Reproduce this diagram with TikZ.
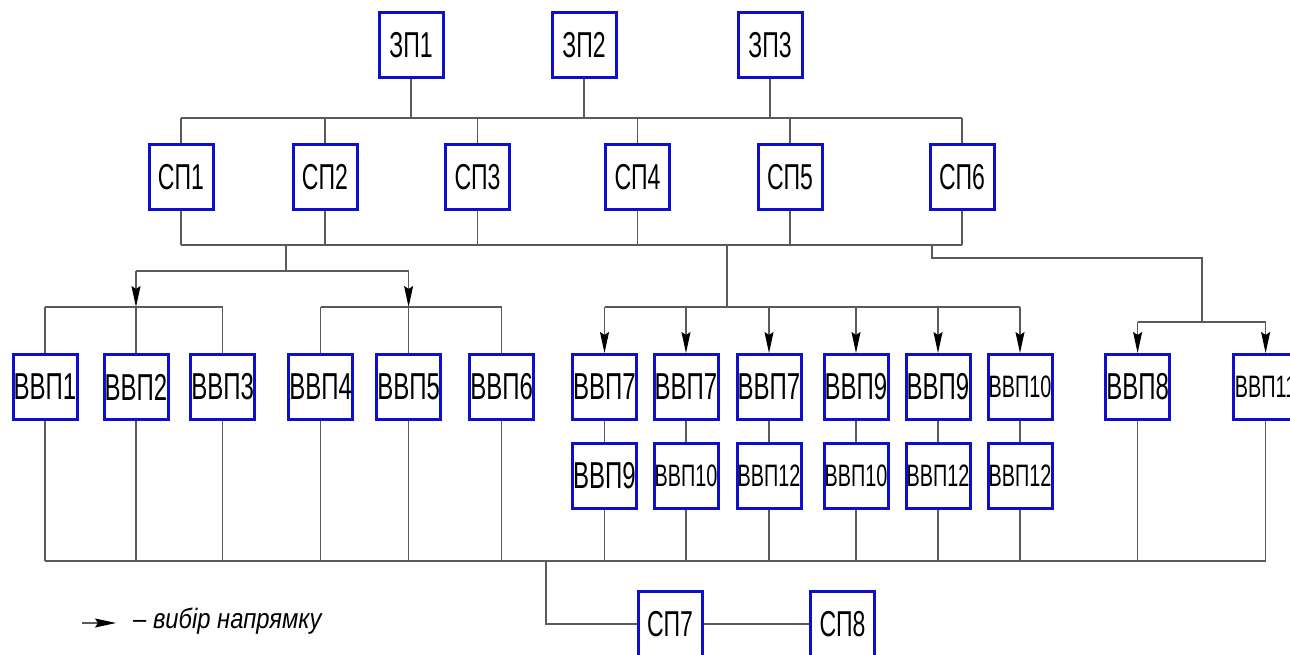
\documentclass[tikz,border=0pt]{standalone}
\usepackage{fontspec}
\setmainfont{Liberation Sans}[FakeStretch=0.64]
\newfontfamily\legfont{Liberation Sans}[FakeStretch=0.85]
\usetikzlibrary{arrows.meta}
\definecolor{boxblue}{RGB}{14,14,205}
\definecolor{wirec}{RGB}{90,90,90}
\newcommand\boxlabel[1]{\makebox[0pt][c]{#1}}
\begin{document}
\begin{tikzpicture}[x=1pt,y=-1pt,
  box/.style={draw=boxblue, line width=3pt, minimum width=64pt, minimum height=65pt,
    inner sep=0pt, text=black, font=\fontsize{36}{38}\selectfont},
  vbox/.style={box, font=\fontsize{37.5}{40}\selectfont},
  vsmall/.style={box, font=\fontsize{31}{34}\selectfont},
  wire/.style={draw=wirec, line width=1.1pt},
  arr/.style={wire, -{Stealth[length=21pt,width=9pt,inset=3pt,color=black]}}]
\useasboundingbox (0,0) rectangle (1290,655);
\fill[white] (0,0) rectangle (1290,655);
% top row
\node[box] (zp1) at (411,45.5) {\boxlabel{ЗП1}};
\node[box] (zp2) at (584,45.5) {\boxlabel{ЗП2}};
\node[box] (zp3) at (770,45.5) {\boxlabel{ЗП3}};
% SP row
\node[box] (sp1) at (181,177) {\boxlabel{СП1}};
\node[box] (sp2) at (325,177) {\boxlabel{СП2}};
\node[box] (sp3) at (477.5,177) {\boxlabel{СП3}};
\node[box] (sp4) at (637.5,177) {\boxlabel{СП4}};
\node[box] (sp5) at (790,177) {\boxlabel{СП5}};
\node[box] (sp6) at (962,177) {\boxlabel{СП6}};
% VVP row
\node[vbox] (v1) at (45,387) {\boxlabel{ВВП1}};
\node[vbox] (v2) at (136,387) {\boxlabel{ВВП2}};
\node[vbox] (v3) at (222.6,387) {\boxlabel{ВВП3}};
\node[vbox] (v4) at (320.6,387) {\boxlabel{ВВП4}};
\node[vbox] (v5) at (408.6,387) {\boxlabel{ВВП5}};
\node[vbox] (v6) at (501.6,387) {\boxlabel{ВВП6}};
\node[vbox] (v7a) at (604.5,387) {\boxlabel{ВВП7}};
\node[vbox] (v7b) at (686,387) {\boxlabel{ВВП7}};
\node[vbox] (v7c) at (769,387) {\boxlabel{ВВП7}};
\node[vbox] (v9a) at (856,387) {\boxlabel{ВВП9}};
\node[vbox] (v9b) at (938,387) {\boxlabel{ВВП9}};
\node[vsmall] (v10) at (1020,387) {\boxlabel{ВВП10}};
\node[vbox] (v8) at (1137.6,387) {\boxlabel{ВВП8}};
\node[vsmall] (v11) at (1265.6,387) {\boxlabel{ВВП11}};
% second row
\node[vbox] (w9) at (604.5,476) {\boxlabel{ВВП9}};
\node[vsmall] (w10a) at (686,476) {\boxlabel{ВВП10}};
\node[vsmall] (w12a) at (769,476) {\boxlabel{ВВП12}};
\node[vsmall] (w10b) at (856,476) {\boxlabel{ВВП10}};
\node[vsmall] (w12b) at (938,476) {\boxlabel{ВВП12}};
\node[vsmall] (w12c) at (1020,476) {\boxlabel{ВВП12}};
% bottom
\node[box] (sp7) at (670,624) {\boxlabel{СП7}};
\node[box] (sp8) at (842.5,624) {\boxlabel{СП8}};
% coordinates
\coordinate (tb) at (0,118);
\coordinate (lb) at (0,245);
\coordinate (ja) at (286,245);
\coordinate (ka) at (286,271);
\coordinate (ba) at (0,307);
\coordinate (jb) at (727,245);
\coordinate (jc) at (932,245);
\coordinate (kc) at (932,258);
\coordinate (mc) at (1202,258);
\coordinate (bc) at (0,322);
\coordinate (bb) at (0,561);
\coordinate (jd) at (546,561);
% top bus
\foreach \n in {zp1,zp2,zp3} \draw[wire] (\n.south) -- (\n.south |- tb);
\draw[wire] (sp1.north |- tb) -- (sp6.north |- tb);
\foreach \n in {sp1,sp2,sp3,sp4,sp5,sp6} {
  \draw[wire] (\n.north) -- (\n.north |- tb);
  \draw[wire] (\n.south) -- (\n.south |- lb);
}
\draw[wire] (sp1.south |- lb) -- (sp6.south |- lb);
% branch A
\draw[wire] (ja) -- (ka);
\draw[wire] (v2.north |- ka) -- (v5.north |- ka);
\draw[arr] (v2.north |- ka) -- (v2.north |- ba);
\draw[arr] (v5.north |- ka) -- (v5.north |- ba);
\draw[wire] (v1.north |- ba) -- (v3.north |- ba);
\draw[wire] (v4.north |- ba) -- (v6.north |- ba);
\foreach \n in {v1,v2,v3,v4,v5,v6} \draw[wire] (\n.north) -- (\n.north |- ba);
% branch B
\draw[wire] (jb) -- (jb |- ba);
\draw[wire] (v7a.north |- ba) -- (v10.north |- ba);
\foreach \n in {v7a,v7b,v7c,v9a,v9b,v10} \draw[arr] (\n.north |- ba) -- (\n.north);
% branch C
\draw[wire] (jc) -- (kc) -- (mc) -- (mc |- bc);
\draw[wire] (v8.north |- bc) -- (v11.north |- bc);
\foreach \n in {v8,v11} \draw[arr] (\n.north |- bc) -- (\n.north);
% stacks
\draw[wire] (v7a.south) -- (w9.north);
\draw[wire] (v7b.south) -- (w10a.north);
\draw[wire] (v7c.south) -- (w12a.north);
\draw[wire] (v9a.south) -- (w10b.north);
\draw[wire] (v9b.south) -- (w12b.north);
\draw[wire] (v10.south) -- (w12c.north);
% bottom bus
\foreach \n in {v1,v2,v3,v4,v5,v6,w9,w10a,w12a,w10b,w12b,w12c,v8,v11}
  \draw[wire] (\n.south) -- (\n.south |- bb);
\draw[wire] (v1.south |- bb) -- (v11.south |- bb);
\draw[wire] (jd) -- (jd |- sp7.west) -- (sp7.west);
\draw[wire] (sp7.east) -- (sp8.west);
% legend
\coordinate (la) at (82,623);
\coordinate (lz) at (116,623);
\draw[arr] (la) -- (lz);
\node[anchor=west, inner sep=0pt, font=\legfont\itshape\fontsize{28}{30}\selectfont] (leg) at (133,621) {– вибір напрямку};
\end{tikzpicture}
\end{document}
